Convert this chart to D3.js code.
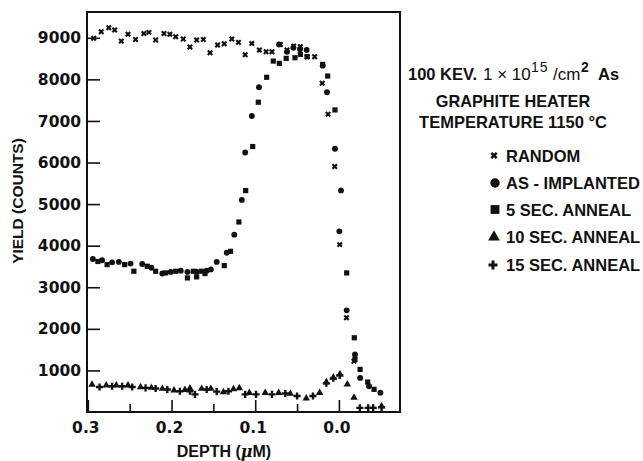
<!DOCTYPE html>
<html><head><meta charset="utf-8">
<script src="https://cdn.jsdelivr.net/npm/d3@7"></script>
<style>
html,body{margin:0;padding:0;background:#fff;}
svg text{font-family:"Liberation Sans",Arial,sans-serif;font-weight:bold;fill:#111;}
.tick-lbl{font-family:"DejaVu Sans",sans-serif !important;}
</style>
</head><body>
<svg id="chart" width="643" height="461"></svg>
<script>
// ---- data: [depth (µm), yield (counts)] ----
const randomData = [[0.293,8990],[0.284,9145],[0.275,9240],[0.268,9185],[0.260,8920],[0.252,9085],[0.243,8960],[0.233,9105],[0.227,9130],[0.219,8945],[0.209,9105],[0.202,9085],[0.195,9025],[0.186,8970],[0.178,8780],[0.170,8945],[0.162,8960],[0.154,8640],[0.145,8825],[0.137,8855],[0.128,8970],[0.120,8890],[0.112,8590],[0.104,8865],[0.095,8705],[0.087,8665],[0.080,8665],[0.070,8840],[0.062,8705],[0.054,8800],[0.046,8785],[0.038,8545],[0.029,8545],[0.020,7905],[0.013,7160],[0.005,5905],[-0.001,4025],[-0.009,2265],[-0.018,1220]];
const asImplantedData = [[0.294,3680],[0.283,3650],[0.271,3600],[0.263,3610],[0.249,3570],[0.235,3560],[0.224,3470],[0.211,3330],[0.201,3370],[0.189,3400],[0.181,3370],[0.170,3375],[0.158,3400],[0.153,3430],[0.146,3610],[0.134,3830],[0.125,4265],[0.116,5100],[0.112,6240],[0.104,7120],[0.0955,7810],[0.0716,8840],[0.062,8665],[0.0545,8760],[0.0465,8725],[0.0385,8705],[0.0194,8330],[0.0142,7690],[0.0047,6330],[-0.0025,5330],[-0.0005,4345],[-0.0093,2445],[-0.0192,1385],[-0.0254,820],[-0.036,620],[-0.0496,465]];
const anneal5Data = [[0.288,3620],[0.277,3545],[0.256,3545],[0.245,3385],[0.229,3505],[0.219,3385],[0.207,3345],[0.195,3385],[0.181,3225],[0.174,3385],[0.170,3250],[0.164,3385],[0.160,3330],[0.137,3520],[0.1295,3865],[0.1195,4570],[0.1114,5325],[0.103,6385],[0.0963,7450],[0.0863,8050],[0.0784,8440],[0.0712,8385],[0.063,8505],[0.0525,8520],[0.046,8600],[0.038,8545],[0.0194,8360],[0.0134,8080],[0.0047,7265],[-0.0093,3345],[-0.0184,1785],[-0.0192,1265],[-0.0253,1025],[-0.0344,720],[-0.042,545]];
const anneal10Data = [[0.295,660],[0.278,640],[0.266,640],[0.252,640],[0.237,600],[0.224,585],[0.211,560],[0.197,520],[0.184,535],[0.178,570],[0.164,560],[0.153,560],[0.138,480],[0.126,550],[0.119,575],[0.107,460],[0.088,460],[0.072,460],[0.058,440],[0.039,330],[0.023,460],[0.015,720],[0.0067,830],[-0.0013,905],[-0.010,665],[-0.018,345],[-0.051,140]];
const anneal15Data = [[0.286,600],[0.271,620],[0.259,620],[0.247,600],[0.231,580],[0.219,565],[0.205,540],[0.190,500],[0.178,500],[0.172,425],[0.158,540],[0.146,490],[0.132,500],[0.112,425],[0.099,425],[0.080,425],[0.064,445],[0.050,385],[0.031,385],[0.015,690],[0.0067,810],[-0.001,880],[-0.025,100],[-0.035,100],[-0.041,100],[-0.051,110]];

const yTickValues = [1000,2000,3000,4000,5000,6000,7000,8000,9000];
const xMajorTicks = [0.3,0.2,0.1,0.0];
const xMinorTicks = [0.25,0.15,0.05];
const seriesNames = ["RANDOM","AS - IMPLANTED","5 SEC. ANNEAL","10 SEC. ANNEAL","15 SEC. ANNEAL"];

// ---- layout ----
const L = 87, R = 400, T = 12, B = 412;
const svg = d3.select("#chart");
const x = d3.scaleLinear().domain([0.301, -0.073]).range([L, R]);
const y = d3.scaleLinear().domain([0, 9620]).range([B, T]);

// frame
svg.append("rect").attr("x",L).attr("y",T).attr("width",R-L).attr("height",B-T)
  .attr("fill","none").attr("stroke","#111").attr("stroke-width",2);

// y ticks (inward)
svg.append("g").attr("transform",`translate(${L},0)`)
  .call(d3.axisRight(y).tickValues(yTickValues).tickSize(13).tickFormat(""))
  .call(g=>g.select(".domain").remove())
  .call(g=>g.selectAll("line").attr("stroke","#111").attr("stroke-width",1.6));
svg.append("g").selectAll("text").data(yTickValues).join("text")
  .attr("class","tick-lbl").attr("x",81).attr("y",d=>y(d)).attr("dy","0.36em")
  .attr("text-anchor","end").attr("font-size",15.5).text(d=>d);

// x ticks (inward from bottom)
svg.append("g").attr("transform",`translate(0,${B})`)
  .call(d3.axisTop(x).tickValues(xMajorTicks).tickSize(12).tickFormat(""))
  .call(g=>g.select(".domain").remove())
  .call(g=>g.selectAll("line").attr("stroke","#111").attr("stroke-width",1.6));
svg.append("g").attr("transform",`translate(0,${B})`)
  .call(d3.axisTop(x).tickValues(xMinorTicks).tickSize(8).tickFormat(""))
  .call(g=>g.select(".domain").remove())
  .call(g=>g.selectAll("line").attr("stroke","#111").attr("stroke-width",1.6));
svg.append("g").selectAll("text").data(xMajorTicks).join("text")
  .attr("class","tick-lbl").attr("x",d=>x(d)-2).attr("y",433)
  .attr("text-anchor","middle").attr("font-size",15.5).text(d=>d.toFixed(1));

// axis titles
svg.append("text").attr("transform","translate(23,201) rotate(-90)")
  .attr("text-anchor","middle").attr("font-size",15.5).text("YIELD (COUNTS)");
const xt = svg.append("text").attr("x",224).attr("y",457).attr("text-anchor","middle").attr("font-size",16);
xt.append("tspan").text("DEPTH (");
xt.append("tspan").attr("font-style","italic").attr("font-family","DejaVu Serif, serif").text("μ");
xt.append("tspan").text("M)");

// markers
const sym = {
  random: d3.symbol().type(d3.symbolCross).size(22),
  circle: d3.symbol().type(d3.symbolCircle).size(27),
  square: d3.symbol().type(d3.symbolSquare).size(27),
  tri: d3.symbol().type(d3.symbolTriangle).size(24),
  plus: d3.symbol().type(d3.symbolCross).size(28)
};
function plot(data, path, rot){
  svg.append("g").selectAll("path").data(data).join("path")
    .attr("d", path)
    .attr("transform", d=>`translate(${x(d[0])},${y(d[1])})${rot?" rotate(45)":""}`)
    .attr("fill","#111");
}
plot(randomData, sym.random, true);
plot(anneal10Data, sym.tri, false);
plot(anneal15Data, sym.plus, false);
plot(anneal5Data, sym.square, false);
plot(asImplantedData, sym.circle, false);

// annotation
const t1 = svg.append("text").attr("y",80).attr("font-size",16.5);
t1.append("tspan").attr("x",408).text("100 KEV.");
t1.append("tspan").attr("x",483).attr("font-weight","normal").attr("font-size",17).text("1 × 10");
t1.append("tspan").attr("x",531).attr("dy",-8).attr("font-size",14).attr("font-weight","normal").attr("letter-spacing",1).text("15");
t1.append("tspan").attr("x",553).attr("dy",8).attr("font-weight","normal").attr("font-size",17).text("/cm");
t1.append("tspan").attr("x",581).attr("dy",-8).attr("font-size",14).text("2");
t1.append("tspan").attr("x",598).attr("dy",8).text("As");
svg.append("text").attr("x",513).attr("y",107).attr("text-anchor","middle").attr("font-size",16.3).text("GRAPHITE HEATER");
svg.append("text").attr("x",513).attr("y",128).attr("text-anchor","middle").attr("font-size",16.5).text("TEMPERATURE 1150 °C");

// legend
const legY = [155.5,183,209.5,237,265];
const legX = [494,495,495,494,493];
const legSyms = [
  [d3.symbol().type(d3.symbolCross).size(32), true],
  [d3.symbol().type(d3.symbolCircle).size(70), false],
  [d3.symbol().type(d3.symbolSquare).size(78), false],
  [d3.symbol().type(d3.symbolTriangle).size(60), false],
  [d3.symbol().type(d3.symbolCross).size(45), false]
];
seriesNames.forEach((n,i)=>{
  svg.append("path").attr("d",legSyms[i][0])
    .attr("transform",`translate(${legX[i]},${legY[i]})${legSyms[i][1]?" rotate(45)":""}`)
    .attr("fill","#111");
  svg.append("text").attr("x",506).attr("y",legY[i]+6).attr("font-size",16.5).text(n);
});
</script>
</body></html>
